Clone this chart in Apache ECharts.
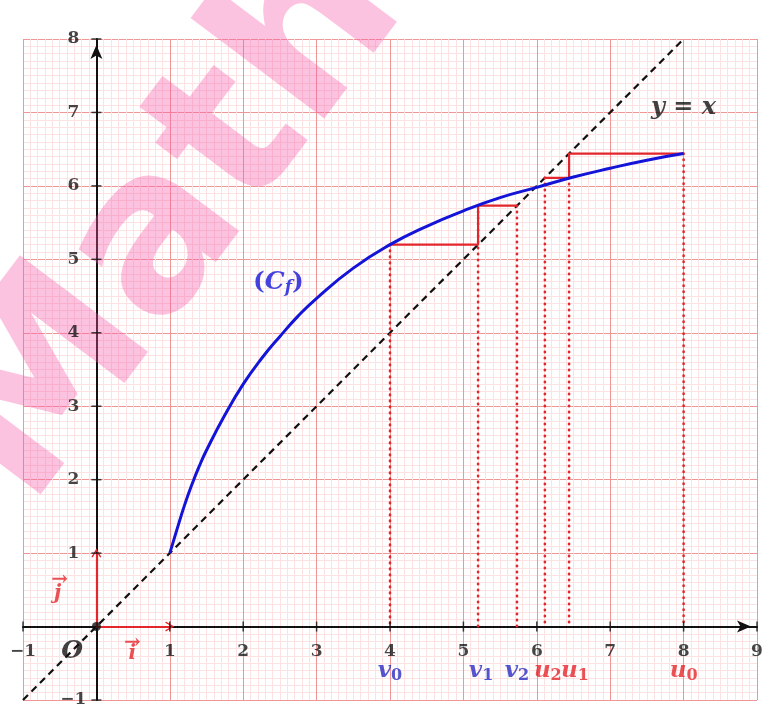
<!DOCTYPE html>
<html><head><meta charset="utf-8">
<script src="https://cdn.jsdelivr.net/npm/echarts@6/dist/echarts.min.js"></script>
<style>html,body{margin:0;padding:0;background:#fff}#c{width:783px;height:706px}</style>
</head><body><div id="c"></div>
<script>
// ---- data ----
const xTicks = [-1, 1, 2, 3, 4, 5, 6, 7, 8, 9];
const yTicks = [-1, 1, 2, 3, 4, 5, 6, 7, 8];
const curveX = [1, 1.1, 1.2, 1.3, 1.4, 1.5, 1.75, 2, 2.25, 2.5, 2.75, 3, 3.5, 4, 4.5, 5, 5.5, 6, 6.5, 7, 7.5, 8];
const curveY = [1, 1.33, 1.65, 1.93, 2.18, 2.4, 2.88, 3.3, 3.65, 3.95, 4.23, 4.47, 4.88, 5.2, 5.45, 5.66, 5.84, 5.98, 6.12, 6.24, 6.35, 6.44];
const uSeq = [8, 6.44, 6.11];
const vSeq = [4, 5.2, 5.73];
const diagX = [-1, 8];

const RED = '#e3262b', BLUE = '#1414d8', DBLUE = '#2b2bc0';
const SERIF = '"DejaVu Serif", serif';

function stairs(s) {
  return [[s[0], s[1]], [s[1], s[1]], [s[1], s[2]], [s[2], s[2]]];
}
function drops(s) {
  return [[[s[0], s[1]], [s[0], 0]], [[s[1], s[2]], [s[1], 0]], [[s[2], s[2]], [s[2], 0]]];
}
const fmtTick = v => v < 0 ? '\u2212' + (-v) : String(v);

const chart = echarts.init(document.getElementById('c'));
const series = [];

series.push({type: 'line', data: diagX.map(x => [x, x]), symbol: 'none', z: 3,
  lineStyle: {color: '#111', width: 2.2, type: [7, 5]}});
series.push({type: 'line', data: curveX.map((x, i) => [x, curveY[i]]), symbol: 'none', smooth: 0.5, z: 6,
  lineStyle: {color: BLUE, width: 3}});
[uSeq, vSeq].forEach(s => {
  series.push({type: 'line', data: stairs(s), symbol: 'none', z: 5, lineStyle: {color: RED, width: 2.2}});
  drops(s).forEach(d => series.push({type: 'line', data: d, symbol: 'none', z: 4,
    lineStyle: {color: RED, width: 2.6, type: [0.5, 5.5], cap: 'round'}}));
});
const chevron = 'path://M0,12 L6,0 L12,12 L10.5,12.8 L6,4 L1.5,12.8 Z';
series.push({type: 'line', data: [], markLine: {silent: true, symbol: ['none', chevron], symbolSize: [10, 9],
  label: {show: false}, lineStyle: {color: RED, width: 2.2, type: 'solid'},
  data: [[{coord: [0, 0]}, {coord: [1, 0]}], [{coord: [0, 0]}, {coord: [0, 1]}]]}, z: 7});
series.push({type: 'scatter', data: xTicks.map(x => [x, 0]), symbol: 'rect', symbolSize: [1.5, 10],
  itemStyle: {color: '#111'}, z: 8, silent: true});
series.push({type: 'scatter', data: yTicks.map(y => [0, y]), symbol: 'rect', symbolSize: [10, 1.5],
  itemStyle: {color: '#111'}, z: 8, silent: true});
series.push({type: 'scatter', data: [[0, 0]], symbolSize: 9, itemStyle: {color: '#111'}, z: 9});

// tick labels next to the axes
const tickFont = {fontFamily: SERIF, fontWeight: 'bold', fontSize: 17, color: '#161616'};
series.push({type: 'scatter', symbolSize: 0, z: 10, silent: true,
  data: xTicks.map(x => [x, 0]),
  label: Object.assign({show: true, position: 'inside', offset: [0, 25], formatter: p => fmtTick(p.value[0])}, tickFont)});
series.push({type: 'scatter', symbolSize: 0, z: 10, silent: true,
  data: yTicks.map(y => [0, y]),
  label: Object.assign({show: true, position: 'inside', offset: [-23, 0], formatter: p => fmtTick(p.value[1])}, tickFont)});

function lab(pos, fmt, color, rich) {
  return {value: pos, label: {show: true, position: 'inside', formatter: fmt, color: color, rich: rich}};
}
const mathRich = (color, big, small) => ({
  b: {fontFamily: SERIF, fontStyle: 'italic', fontWeight: 'bold', fontSize: big, color, lineHeight: 30, verticalAlign: 'middle'},
  s: {fontFamily: SERIF, fontWeight: 'bold', fontSize: small, color, lineHeight: 30, verticalAlign: 'bottom', padding: [0, 0, 2, 0]},
  si: {fontFamily: SERIF, fontStyle: 'italic', fontWeight: 'bold', fontSize: small, color, lineHeight: 30, verticalAlign: 'bottom', padding: [0, 0, 1, 0]},
  n: {fontFamily: SERIF, fontWeight: 'bold', fontSize: big, color, lineHeight: 30, verticalAlign: 'middle'}
});
const labels = [
  lab([0, 8.34], '{b|y}', '#111', mathRich('#111', 24, 14)),
  lab([9.18, 0.02], '{b|x}', '#111', mathRich('#111', 24, 14)),
  lab([-0.33, -0.34], '{b|O}', '#111', mathRich('#111', 25, 14)),
  lab([8.0, 7.06], '{b|y}{n| = }{b|x}', '#111', mathRich('#111', 24, 14)),
  lab([2.48, 4.69], '{n|(}{b|C}{si|f}{n|)}', BLUE, mathRich(BLUE, 25, 17)),
  lab([0.49, -0.22], '{n|→}', RED, mathRich(RED, 20, 12)),
  lab([0.49, -0.37], '{b|i}', RED, mathRich(RED, 20, 12)),
  lab([-0.5, 0.64], '{n|→}', RED, mathRich(RED, 20, 12)),
  lab([-0.53, 0.45], '{b|j}', RED, mathRich(RED, 20, 12)),
  lab([vSeq[0], -0.6], '{b|v}{s|0}', DBLUE, mathRich(DBLUE, 23, 16)),
  lab([vSeq[1] + 0.04, -0.6], '{b|v}{s|1}', DBLUE, mathRich(DBLUE, 23, 16)),
  lab([vSeq[2], -0.6], '{b|v}{s|2}', DBLUE, mathRich(DBLUE, 23, 16)),
  lab([uSeq[2] + 0.04, -0.6], '{b|u}{s|2}', RED, mathRich(RED, 23, 16)),
  lab([uSeq[1] + 0.08, -0.6], '{b|u}{s|1}', RED, mathRich(RED, 23, 16)),
  lab([uSeq[0], -0.6], '{b|u}{s|0}', RED, mathRich(RED, 23, 16))
];
series.push({type: 'scatter', data: labels, symbolSize: 0, z: 10, silent: true});

const axisCommon = {
  axisLine: {onZero: true, lineStyle: {color: '#111', width: 2}, symbol: ['none', 'arrow'], symbolSize: [9, 14], symbolOffset: [0, -6]},
  axisTick: {show: false},
  axisLabel: {show: false},
  splitLine: {show: true, lineStyle: {color: '#ef9696', width: 1}},
  minorTick: {show: false, splitNumber: 10},
  minorSplitLine: {show: true, lineStyle: {color: '#fce2e2', width: 1}}
};

chart.setOption({
  animation: false,
  backgroundColor: '#fff',
  grid: {left: 23, right: 26, top: 39, bottom: 6, containLabel: false, outerBoundsMode: 'none'},
  xAxis: Object.assign({type: 'value', min: -1, max: 9, interval: 1}, axisCommon),
  yAxis: Object.assign({type: 'value', min: -1, max: 8, interval: 1}, axisCommon),
  graphic: [{type: 'text', x: -105, y: 410, rotation: 53 * Math.PI / 180, z: 1, silent: true,
    style: {text: 'Maths', font: 'bold 220px "DejaVu Sans"', fill: 'rgba(248,90,170,0.36)'}}],
  series
});
</script></body></html>
